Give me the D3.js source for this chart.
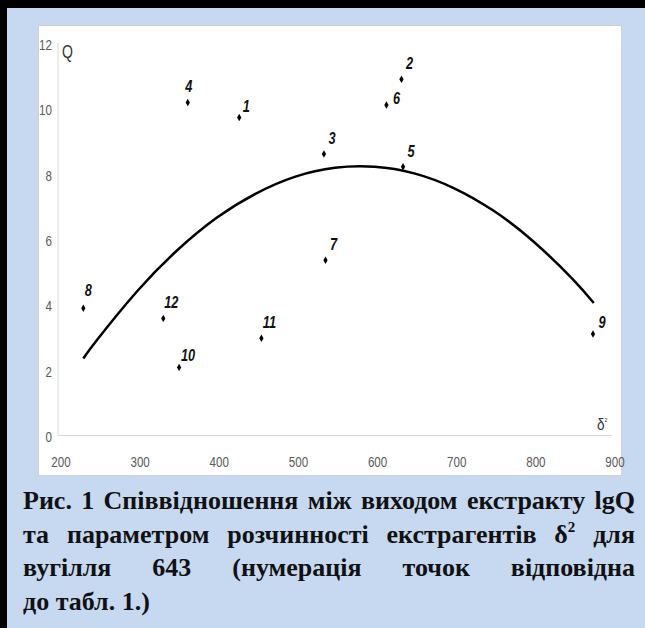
<!DOCTYPE html>
<html>
<head>
<meta charset="utf-8">
<script src="https://cdn.jsdelivr.net/npm/d3@7"></script>
<style>
  html, body { margin: 0; padding: 0; background: #fff; }
  svg { display: block; }
</style>
</head>
<body>
<svg id="chart"></svg>
<script>
// point numbers (as in table 1) and their values
var pointIds = [1, 2, 3, 4, 5, 6, 7, 8, 9, 10, 11, 12];
var delta2   = [429, 634, 536, 364, 636, 615, 538, 232, 876, 353, 457, 333];
var lgQ      = [9.72, 10.89, 8.60, 10.18, 8.21, 10.10, 5.35, 3.88, 3.09, 2.07, 2.96, 3.57];

// polynomial trend line
var trendX = [232, 250, 300, 350, 400, 450, 500, 550, 600, 650, 700, 750, 800, 850, 877];
var trendY = [2.34, 2.93, 4.40, 5.64, 6.64, 7.39, 7.91, 8.18, 8.21, 8.01, 7.56, 6.87, 5.94, 4.78, 4.04];

// axis ticks
var xTicks = [200, 300, 400, 500, 600, 700, 800, 900];
var yTicks = [0, 2, 4, 6, 8, 10, 12];

// caption lines (last one is not justified)
var captionLines = [
  ["Рис.", "1", "Співвідношення", "між", "виходом", "екстракту", "lgQ"],
  ["та", "параметром", "розчинності", "екстрагентів", "δ^2", "для"],
  ["вугілля", "643", "(нумерація", "точок", "відповідна"],
  ["до табл. 1.)"]
];

/*
 *  canvas
 */
var width = 645,
    height = 628;

var svg = d3.select("#chart")
    .attr("width", width)
    .attr("height", height);

// blue page + black edge on top/left
svg.append("rect").attr("width", width).attr("height", height).style("fill", "#c6d9f1");
svg.append("rect").attr("width", width).attr("height", 8).style("fill", "#000");
svg.append("rect").attr("width", 7).attr("height", height).style("fill", "#000");

// white chart area
svg.append("rect")
    .attr("x", 38.5).attr("y", 25.5)
    .attr("width", 583).attr("height", 450)
    .style("fill", "#fff")
    .style("stroke", "#d0d0d0")
    .style("stroke-width", 1);

var x = d3.scaleLinear().domain([200, 900]).range([58, 612]);
var y = d3.scaleLinear().domain([0, 12]).range([435, 43]);

var sansFont = "'Liberation Sans', Arial, sans-serif";

// axes lines
svg.append("line")
    .attr("x1", x(200)).attr("x2", x(200))
    .attr("y1", y(12)).attr("y2", y(0))
    .style("stroke", "#d9d9d9").style("stroke-width", 1);
svg.append("line")
    .attr("x1", x(200)).attr("x2", x(900))
    .attr("y1", y(0) + 0.5).attr("y2", y(0) + 0.5)
    .style("stroke", "#d9d9d9").style("stroke-width", 1);

// y tick labels (squeezed, like the picture)
svg.selectAll(".ylab")
  .data(yTicks)
  .enter().append("text")
    .attr("class", "ylab")
    .attr("transform", function(d) { return "translate(52," + (y(d) + 2) + ") scale(0.8,1)"; })
    .attr("dominant-baseline", "central")
    .style("text-anchor", "end")
    .style("font-family", sansFont)
    .style("font-size", "14.5px")
    .style("fill", "#595959")
    .text(function(d) { return d; });

// x tick labels
svg.selectAll(".xlab")
  .data(xTicks)
  .enter().append("text")
    .attr("class", "xlab")
    .attr("transform", function(d) { return "translate(" + (x(d) + 3) + ",462) scale(0.8,1)"; })
    .attr("dominant-baseline", "central")
    .style("text-anchor", "middle")
    .style("font-family", sansFont)
    .style("font-size", "14.5px")
    .style("fill", "#595959")
    .text(function(d) { return d; });

// axis titles
svg.append("text")
    .attr("transform", "translate(62,58) scale(0.78,1)")
    .style("font-family", sansFont)
    .style("font-size", "18px")
    .style("fill", "#333")
    .text("Q");

var dl = svg.append("text")
    .attr("transform", "translate(597,430) scale(0.85,1)")
    .style("font-family", sansFont)
    .style("font-size", "16px")
    .style("fill", "#333");
dl.append("tspan").text("δ");
dl.append("tspan").attr("dy", -8).style("font-size", "6px").text("2");

// trend line
var trend = trendX.map(function(d, i) { return [d, trendY[i]]; });
svg.append("path")
    .datum(trend)
    .attr("d", d3.line()
        .x(function(d) { return x(d[0]); })
        .y(function(d) { return y(d[1]); })
        .curve(d3.curveNatural))
    .style("fill", "none")
    .style("stroke", "#000")
    .style("stroke-width", 2.5);

// points
var pts = pointIds.map(function(id, i) { return { id: id, x: delta2[i], y: lgQ[i] }; });

svg.selectAll(".pt")
  .data(pts)
  .enter().append("path")
    .attr("class", "pt")
    .attr("transform", function(d) { return "translate(" + x(d.x) + "," + y(d.y) + ")"; })
    .attr("d", d3.symbol().type(d3.symbolDiamond).size(16))
    .style("fill", "#000");

// label nudges (most sit up and to the right)
function nudge(id) {
  if (id == 6) return [10, -1];
  if (id == 4) return [1, -10];
  if (id == 8) return [5, -12];
  if (id == 10 || id == 9) return [9, -6];
  if (id == 1) return [7, -5];
  return [8, -10];
}

svg.selectAll(".plab")
  .data(pts)
  .enter().append("text")
    .attr("class", "plab")
    .attr("transform", function(d) {
      var n = nudge(d.id);
      return "translate(" + (x(d.x) + n[0]) + "," + (y(d.y) + n[1]) + ") scale(0.75,1)";
    })
    .style("text-anchor", "middle")
    .style("font-family", sansFont)
    .style("font-size", "17px")
    .style("font-weight", "bold")
    .style("font-style", "italic")
    .style("fill", "#111")
    .text(function(d) { return d.id; });

/*
 *  caption, justified word by word
 */
var capLeft = 23,
    capRight = 635,
    capTop = 509,
    capStep = 33.5;

captionLines.forEach(function(words, li) {
  var g = svg.append("g");
  var nodes = words.map(function(w) {
    var t = g.append("text")
        .attr("y", capTop + li * capStep)
        .style("font-family", "'Liberation Serif', 'Times New Roman', serif")
        .style("font-size", "26px")
        .style("font-weight", "bold")
        .style("fill", "#111");
    if (w.indexOf("^") > -1) {
      var parts = w.split("^");
      t.append("tspan").text(parts[0]);
      t.append("tspan").attr("dy", -11).style("font-size", "15px").text(parts[1]);
    } else {
      t.text(w);
    }
    return t;
  });
  var widths = nodes.map(function(t) { return t.node().getBBox().width; });
  var total = d3.sum(widths);
  var gap = words.length > 1 && li < captionLines.length - 1
      ? (capRight - capLeft - total) / (words.length - 1)
      : 6;
  var cx = capLeft;
  nodes.forEach(function(t, i) {
    t.attr("x", cx);
    cx += widths[i] + gap;
  });
});
</script>
</body>
</html>
